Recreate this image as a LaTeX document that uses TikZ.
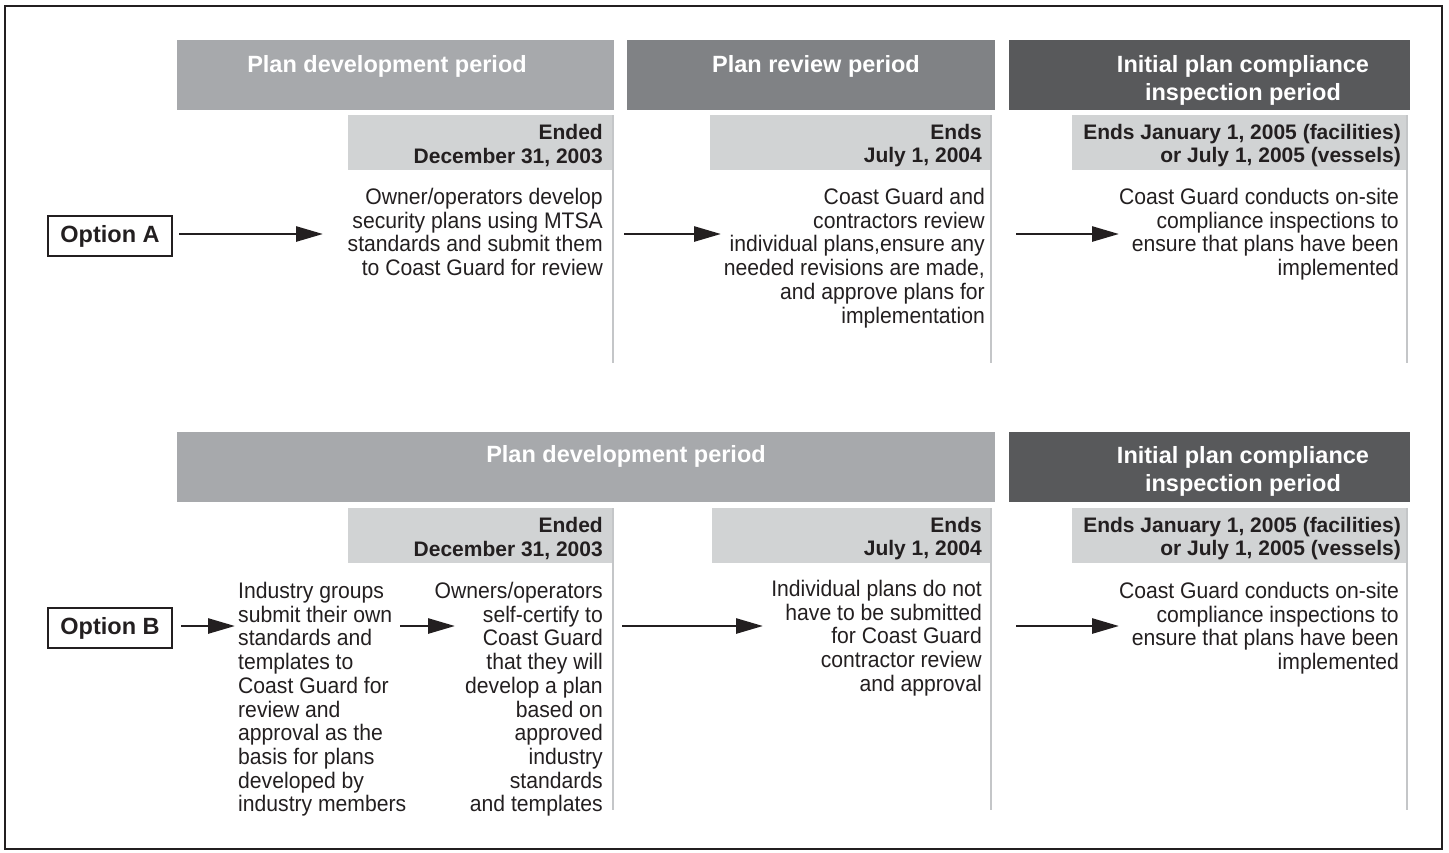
\documentclass[tikz,border=0pt]{standalone}
\usepackage{fontspec}
\setmainfont{Liberation Sans}
\newfontfamily\narrowfont{Liberation Sans}[FakeStretch=0.94]
\newfontfamily\narrowbold{Liberation Sans Bold}[FakeStretch=1.0]
\usetikzlibrary{arrows.meta}
\definecolor{hdrA}{HTML}{A7A9AC}
\definecolor{hdrB}{HTML}{808285}
\definecolor{hdrC}{HTML}{58595B}
\definecolor{datefill}{HTML}{D1D3D4}
\definecolor{vline}{HTML}{C4C6C8}
\definecolor{ink}{HTML}{231F20}
\tikzset{
  hdrbox/.style={draw=none, inner sep=0pt, anchor=north west},
  hdrtext/.style={text=white, font=\bfseries\fontsize{23.5}{28}\selectfont, align=center, inner sep=0pt},
  datebox/.style={fill=datefill, draw=none, inner sep=0pt, minimum height=55pt, anchor=north east},
  datetext/.style={text=ink, font=\narrowbold\fontsize{21}{23.5}\selectfont, align=right, inner sep=0pt, anchor=east},
  bodyR/.style={text=ink, font=\narrowfont\fontsize{22.5}{23.7}\selectfont, align=right, inner sep=0pt, anchor=north east},
  bodyL/.style={text=ink, font=\narrowfont\fontsize{22.5}{23.7}\selectfont, align=left, inner sep=0pt, anchor=north west},
  optbox/.style={draw=ink, line width=2.5pt, font=\bfseries\fontsize{23.5}{28}\selectfont, text=ink,
                 minimum width=124pt, minimum height=40pt, inner sep=0pt},
  arr/.style={draw=ink, line width=2.7pt, -{Triangle[length=27pt,width=15pt]}},
  sep/.style={draw=vline, line width=2pt}
}
\begin{document}
\begin{tikzpicture}[x=1pt,y=-1pt]
\useasboundingbox (0,0) rectangle (1449,852);
\draw[ink, line width=1.5pt] (5,6) rectangle (1442,849);

% ---------------- Option A ----------------
\node[hdrbox, fill=hdrA, minimum width=437pt, minimum height=70pt] (ha1) at (177,40) {};
\node[hdrbox, fill=hdrB, minimum width=368pt, minimum height=70pt] (ha2) at (627,40) {};
\node[hdrbox, fill=hdrC, minimum width=401pt, minimum height=70pt] (ha3) at (1009,40) {};
\node[hdrtext] (ta1) at (387,66) {Plan development period};
\node[hdrtext] (ta2) at (816,66) {Plan review period};
\node[hdrtext] (ta3) at (1243,80) {Initial plan compliance\\inspection period};

\node[datebox, minimum width=264pt] (da1) at (612,115) {};
\node[datebox, minimum width=280pt] (da2) at (990,115) {};
\node[datebox, minimum width=335pt] (da3) at (1407,115) {};
\node[datetext] (dta1) at (603,145.5) {Ended\\December 31, 2003};
\node[datetext] (dta2) at (982,145.5) {Ends\\July 1, 2004};
\node[datetext] (dta3) at (1401,145.5) {Ends January 1, 2005 (facilities)\\or July 1, 2005 (vessels)};

\coordinate (la1) at (613,363);
\coordinate (la2) at (991,363);
\coordinate (la3) at (1407,363);
\draw[sep] (da1.north east) ++(1,0) -- (la1);
\draw[sep] (da2.north east) ++(1,0) -- (la2);
\draw[sep] (da3.north east) -- (la3);

\node[optbox] (optA) at (110,236) {Option A};

\node[bodyR] (ba1) at (603,188) {Owner/operators develop\\security plans using MTSA\\standards and submit them\\to Coast Guard for review};
\node[bodyR] (ba2) at (985,188) {Coast Guard and\\contractors review\\individual plans,ensure any\\needed revisions are made,\\and approve plans for\\implementation};
\node[bodyR] (ba3) at (1399,188) {Coast Guard conducts on-site\\compliance inspections to\\ensure that plans have been\\implemented};

\coordinate (aa1s) at (179,234);
\coordinate (aa1e) at (323,234);
\coordinate (aa2s) at (624,234);
\coordinate (aa2e) at (721,234);
\coordinate (aa3s) at (1016,234);
\coordinate (aa3e) at (1119,234);
\draw[arr] (aa1s) -- (aa1e);
\draw[arr] (aa2s) -- (aa2e);
\draw[arr] (aa3s) -- (aa3e);

% ---------------- Option B ----------------
\node[hdrbox, fill=hdrA, minimum width=818pt, minimum height=70pt] (hb1) at (177,432) {};
\node[hdrbox, fill=hdrC, minimum width=401pt, minimum height=70pt] (hb3) at (1009,432) {};
\node[hdrtext] (tb1) at (626,456) {Plan development period};
\node[hdrtext] (tb3) at (1243,471) {Initial plan compliance\\inspection period};

\node[datebox, minimum width=264pt] (db1) at (612,508) {};
\node[datebox, minimum width=278pt] (db2) at (990,508) {};
\node[datebox, minimum width=335pt] (db3) at (1407,508) {};
\node[datetext] (dtb1) at (603,538.5) {Ended\\December 31, 2003};
\node[datetext] (dtb2) at (982,538.5) {Ends\\July 1, 2004};
\node[datetext] (dtb3) at (1401,538.5) {Ends January 1, 2005 (facilities)\\or July 1, 2005 (vessels)};

\coordinate (lb1) at (613,810);
\coordinate (lb2) at (991,810);
\coordinate (lb3) at (1407,810);
\draw[sep] (db1.north east) ++(1,0) -- (lb1);
\draw[sep] (db2.north east) ++(1,0) -- (lb2);
\draw[sep] (db3.north east) -- (lb3);

\node[optbox] (optB) at (110,628) {Option B};

\node[bodyL] (bb0) at (238,582) {Industry groups\\submit their own\\standards and\\templates to\\Coast Guard for\\review and\\approval as the\\basis for plans\\developed by\\industry members};
\node[bodyR] (bb1) at (603,582) {Owners/operators\\self-certify to\\Coast Guard\\that they will\\develop a plan\\based on\\approved\\industry\\standards\\and templates};
\node[bodyR] (bb2) at (982,580) {Individual plans do not\\have to be submitted\\for Coast Guard\\contractor review\\and approval};
\node[bodyR] (bb3) at (1399,582) {Coast Guard conducts on-site\\compliance inspections to\\ensure that plans have been\\implemented};

\coordinate (ab0s) at (181,626);
\coordinate (ab0e) at (235,626);
\coordinate (ab1s) at (400,626);
\coordinate (ab1e) at (455,626);
\coordinate (ab2s) at (622,626);
\coordinate (ab2e) at (763,626);
\coordinate (ab3s) at (1016,626);
\coordinate (ab3e) at (1119,626);
\draw[arr] (ab0s) -- (ab0e);
\draw[arr] (ab1s) -- (ab1e);
\draw[arr] (ab2s) -- (ab2e);
\draw[arr] (ab3s) -- (ab3e);
\end{tikzpicture}
\end{document}
